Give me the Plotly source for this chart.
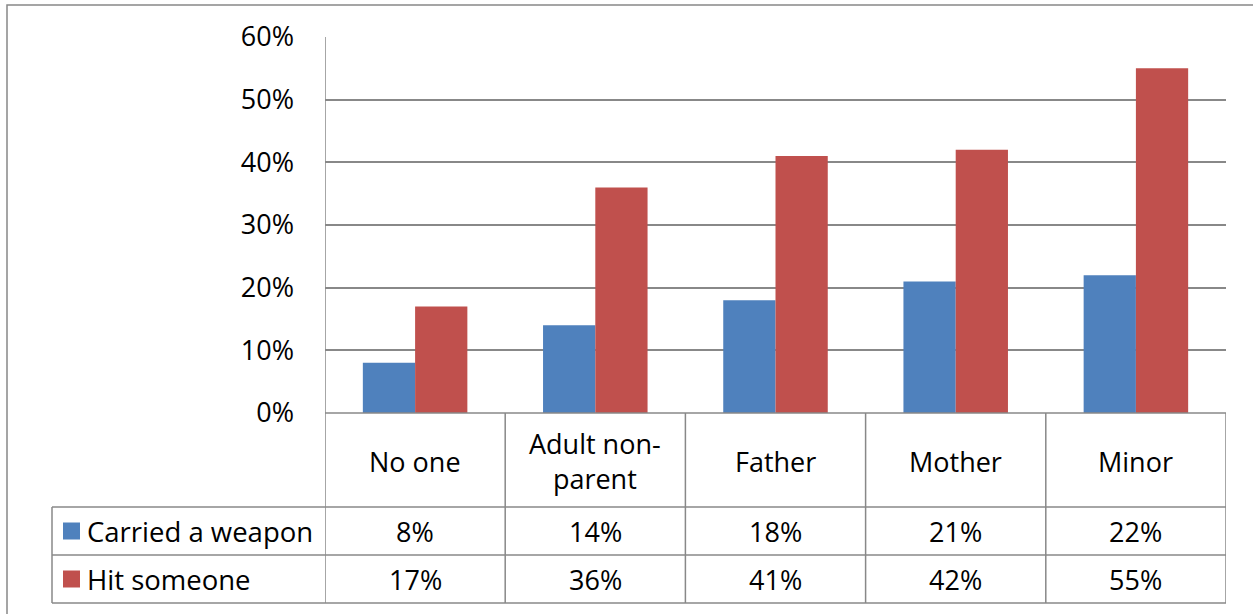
import plotly.graph_objects as go

categories = ["No one", "Adult non-parent", "Father", "Mother", "Minor"]
category_labels = ["No one", "Adult non-<br>parent", "Father", "Mother", "Minor"]
series_names = ["Carried a weapon", "Hit someone"]
carried_weapon = [8, 14, 18, 21, 22]
hit_someone = [17, 36, 41, 42, 55]
y_ticks = [0, 10, 20, 30, 40, 50, 60]
colors = ["#4F81BD", "#C0504D"]

W, H = 1253, 614
L, R, T = 325, 1253 - 1226, 37
B = 614 - 413
pw, ph = W - L - R, H - T - B
FONT = "Open Sans"
FS = 27
GRID = "#888888"


def px_x(sx):
    return (sx - L) / pw


def px_y(sy):
    return (H - B - sy) / ph


fig = go.Figure()
for name, vals, col in zip(series_names, [carried_weapon, hit_someone], colors):
    fig.add_trace(go.Bar(x=list(range(len(categories))), y=vals, name=name,
                         marker=dict(color=col, line=dict(width=0)), showlegend=False))

shapes = []
ann = []
lw = 1.5
# outer border
shapes.append(dict(type="rect", xref="paper", yref="paper", x0=px_x(7), x1=px_x(1265),
                   y0=px_y(625), y1=px_y(5), line=dict(color=GRID, width=lw)))
# table horizontal lines
for sy in [507, 555, 603]:
    shapes.append(dict(type="line", xref="paper", yref="paper", x0=px_x(52), x1=1,
                       y0=px_y(sy), y1=px_y(sy), line=dict(color=GRID, width=lw)))
# axis line at 0 through table
shapes.append(dict(type="line", xref="paper", yref="paper", x0=0, x1=1, y0=0, y1=0,
                   line=dict(color=GRID, width=lw)))
# vertical lines at category boundaries
n = len(categories)
for i in range(n + 1):
    xb = i - 0.5
    top = 1 if i == 0 else 0
    shapes.append(dict(type="line", xref="x", yref="paper", x0=xb, x1=xb,
                       y0=px_y(603), y1=top, line=dict(color=GRID, width=lw)))
# left border of table label column
shapes.append(dict(type="line", xref="paper", yref="paper", x0=px_x(52), x1=px_x(52),
                   y0=px_y(603), y1=px_y(507), line=dict(color=GRID, width=lw)))

# category labels
for i, lab in enumerate(category_labels):
    ann.append(dict(x=i, y=px_y(461), xref="x", yref="paper", text=lab, showarrow=False,
                    font=dict(family=FONT, size=FS, color="black"), xanchor="center",
                    yanchor="middle"))
# data rows
row_y = [531, 579]
for r, (name, vals, col) in enumerate(zip(series_names, [carried_weapon, hit_someone], colors)):
    yy = px_y(row_y[r])
    shapes.append(dict(type="rect", xref="paper", yref="paper", x0=px_x(63), x1=px_x(80),
                       y0=yy - 8.5 / ph, y1=yy + 8.5 / ph, fillcolor=col, line=dict(width=0)))
    ann.append(dict(x=px_x(85), y=yy, xref="paper", yref="paper", text=name, showarrow=False,
                    font=dict(family=FONT, size=FS + 0.5, color="black"), xanchor="left",
                    yanchor="middle"))
    for i, v in enumerate(vals):
        ann.append(dict(x=i, y=yy, xref="x", yref="paper", text=f"{v}%", showarrow=False,
                        font=dict(family=FONT, size=FS, color="black"), xanchor="center",
                        yanchor="middle"))

fig.update_layout(
    width=W, height=H,
    margin=dict(l=L, r=R, t=T, b=B, pad=0),
    paper_bgcolor="white", plot_bgcolor="white",
    barmode="group", bargap=0.42, bargroupgap=0,
    font=dict(family=FONT, size=FS, color="black"),
    xaxis=dict(range=[-0.5, n - 0.5], showticklabels=False, showgrid=False,
               zeroline=False, showline=False, ticks=""),
    yaxis=dict(range=[0, 60], tickvals=y_ticks, ticktext=[f"{t}%" for t in y_ticks],
               showgrid=True, gridcolor=GRID, gridwidth=lw, zeroline=False,
               showline=False, ticks="", ticklabelstandoff=30,
               tickfont=dict(family=FONT, size=FS, color="black")),
    shapes=shapes, annotations=ann,
)
fig.write_html("out.html", config={"displayModeBar": False},
               post_script="document.body.style.margin='0';")
